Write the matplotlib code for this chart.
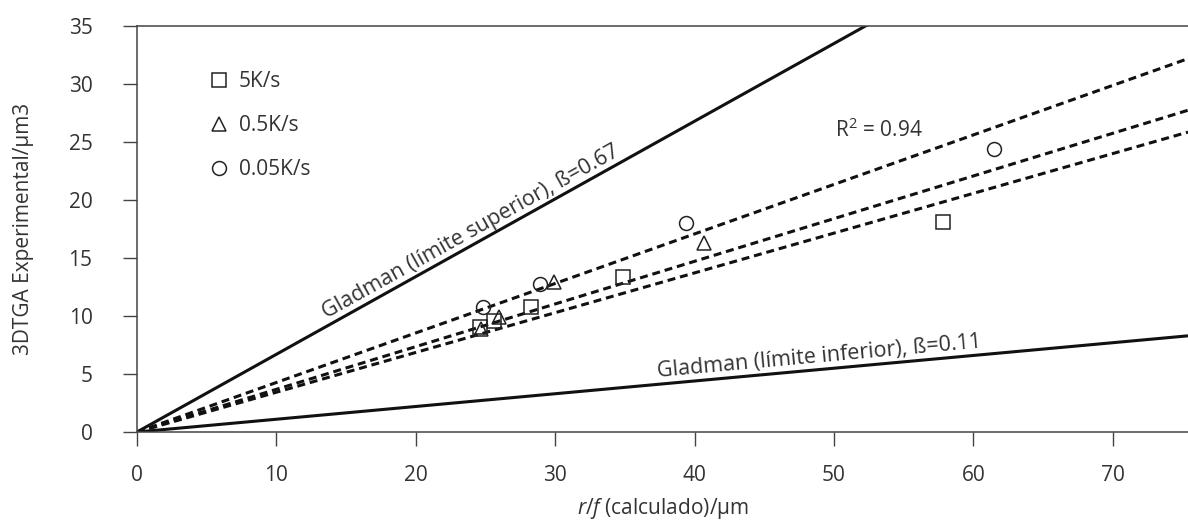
import numpy as np
import matplotlib
matplotlib.use('Agg')
import matplotlib.pyplot as plt
from matplotlib.lines import Line2D

plt.rcParams['font.family'] = ['Open Sans', 'DejaVu Sans']
plt.rcParams['mathtext.fontset'] = 'custom'
plt.rcParams['mathtext.rm'] = 'Open Sans'
plt.rcParams['mathtext.it'] = 'Open Sans:italic'

# data
sq_x = [24.6, 25.6, 28.3, 34.9, 57.8]
sq_y = [9.05, 9.57, 10.8, 13.4, 18.1]
tri_x = [24.7, 26.0, 29.9, 40.7]
tri_y = [8.9, 9.9, 12.9, 16.3]
circ_x = [24.8, 28.9, 39.4, 61.5]
circ_y = [10.8, 12.8, 18.0, 24.4]
series_labels = ['5K/s', '0.5K/s', '0.05K/s']

fit_slopes = [0.427, 0.368, 0.343]
gladman_sup = 0.67
gladman_inf = 0.11

xmax = 75.4
tc = '#333333'
fs = 15

fig = plt.figure(figsize=(11.88, 5.23), dpi=100)
ax = fig.add_axes([0.1153, 0.174, 1 - 0.1153, 0.776])

xx = np.array([0, xmax])
ax.plot(xx, gladman_sup * xx, color='#111111', lw=2.2, solid_capstyle='butt')
ax.plot(xx, gladman_inf * xx, color='#111111', lw=2.2, solid_capstyle='butt')
for s in fit_slopes:
    ax.plot(xx, s * xx, color='#111111', lw=2.2, linestyle=(0, (2.6, 1.6)))

mk = dict(linestyle='none', markerfacecolor='none', markeredgecolor='#222222',
          markeredgewidth=1.1)
ax.plot(sq_x, sq_y, marker='s', markersize=9.5, **mk)
ax.plot(tri_x, tri_y, marker='^', markersize=10.5, **mk)
ax.plot(circ_x, circ_y, marker='o', markersize=10, **mk)

handles = [Line2D([], [], marker='s', markersize=9.5, **mk),
           Line2D([], [], marker='^', markersize=10.5, **mk),
           Line2D([], [], marker='o', markersize=10, **mk)]
leg = ax.legend(handles, series_labels, loc='upper left', bbox_to_anchor=(0.053, 0.935),
                frameon=False, fontsize=fs, handlelength=0.7, handletextpad=0.6,
                labelspacing=1.1)
for t in leg.get_texts():
    t.set_color(tc)

ax.text(50.1, 26.0, r'R$^2$ = 0.94', fontsize=fs, color=tc, va='center', ha='left')

ax.text(24.3, gladman_sup * 24.3 + 0.2, 'Gladman (límite superior), ß=0.67', fontsize=15.5,
        color=tc, ha='center', va='bottom', rotation=29.1, rotation_mode='anchor')
ax.text(49.0, gladman_inf * 49.0 + 0.2, 'Gladman (límite inferior), ß=0.11', fontsize=15.5,
        color=tc, ha='center', va='bottom', rotation=5.2, rotation_mode='anchor')

ax.set_xlim(0, xmax)
ax.set_ylim(0, 35)
ax.set_xticks(range(0, 71, 10))
ax.set_yticks(range(0, 36, 5))
ax.tick_params(direction='out', length=10, width=1.0, color='#444444', labelsize=fs,
               labelcolor=tc)
ax.tick_params(axis='y', pad=22)
ax.tick_params(axis='x', pad=14)
for side in ['left', 'bottom', 'top']:
    ax.spines[side].set_color('#444444')
    ax.spines[side].set_linewidth(1.1)
ax.spines['right'].set_visible(False)

ax.set_xlabel(r'$\it{r/f}$ (calculado)/μm', fontsize=fs, color=tc, labelpad=7)
ax.set_ylabel('3DTGA Experimental/μm3', fontsize=fs, color=tc, labelpad=25)

fig.savefig('out.png', dpi=100)
